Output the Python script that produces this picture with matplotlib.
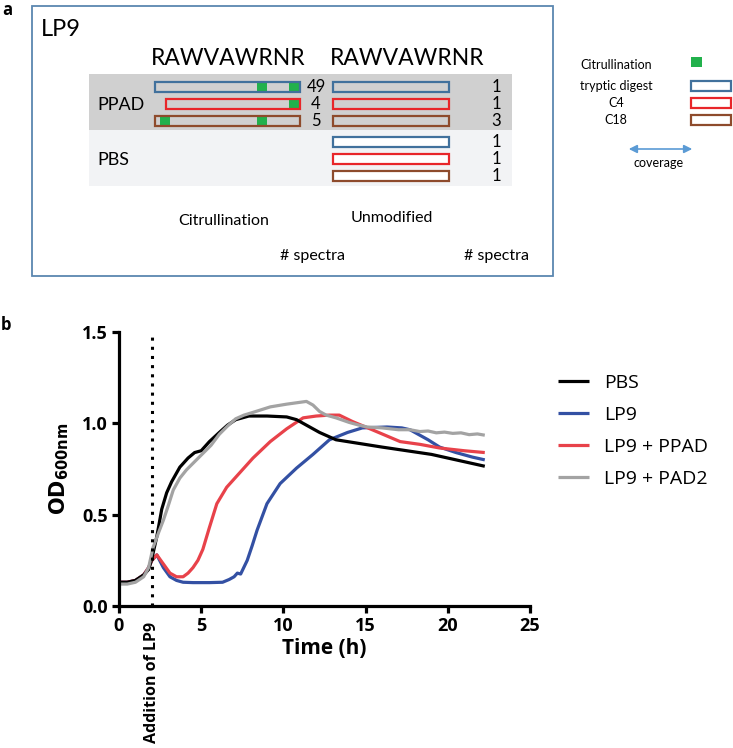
import os

os.environ.setdefault("MPLBACKEND", "Agg")

import matplotlib.pyplot as plt
from matplotlib.patches import Rectangle, FancyArrowPatch

################################################################################
# data                                                                         #
################################################################################
# panel a: peptide coverage schematic
sequence = "RAWVAWRNR"
digestNames = ["tryptic digest", "C4", "C18"]
digestColors = ["#41719c", "#e8262a", "#8e4b2c"]
citStart = [0.0, 0.7, 0.0]          # residue where the citrullinated peptide starts
citSites = [[7, 9], [9], [1, 7]]    # citrullinated arginines (1-based)
citSpectra = [49, 4, 5]
unmodSpectraPpad = [1, 1, 3]
unmodSpectraPbs = [1, 1, 1]

# panel b: growth curves
seriesNames = ["PBS", "LP9", "LP9 + PPAD", "LP9 + PAD2"]
seriesColors = ["#000000", "#3350a3", "#e8424a", "#a3a3a3"]

pbsTime = [0, 0.5, 1.0, 1.5, 1.8, 2.0, 2.3, 2.6, 2.9, 3.2, 3.7, 4.2, 4.6, 5.0,
           5.5, 6.1, 6.6, 7.1, 7.9, 9.0, 10.2, 10.8, 11.4, 12.2, 13.2, 14.6,
           16.0, 17.5, 19.0, 20.5, 22.25]
pbsOd = [0.13, 0.13, 0.14, 0.17, 0.20, 0.26, 0.38, 0.53, 0.62, 0.68, 0.76,
         0.81, 0.84, 0.85, 0.90, 0.95, 0.99, 1.02, 1.04, 1.04, 1.035, 1.02,
         0.99, 0.95, 0.91, 0.89, 0.87, 0.85, 0.83, 0.80, 0.765]

lp9Time = [0, 0.5, 1.0, 1.5, 1.8, 2.0, 2.3, 2.7, 3.1, 3.5, 3.9, 4.5, 5.5, 6.3,
           6.7, 7.0, 7.2, 7.4, 7.8, 8.1, 8.4, 9.0, 9.8, 10.8, 11.8, 12.8, 13.9,
           14.8, 16.3, 17.2, 17.7, 18.1, 18.8, 19.5, 20.5, 21.5, 22.25]
lp9Od = [0.13, 0.13, 0.14, 0.17, 0.21, 0.25, 0.28, 0.21, 0.16, 0.14, 0.13,
         0.128, 0.128, 0.13, 0.145, 0.16, 0.18, 0.175, 0.25, 0.33, 0.415, 0.56,
         0.67, 0.755, 0.83, 0.91, 0.95, 0.975, 0.98, 0.975, 0.965, 0.945, 0.91,
         0.87, 0.84, 0.815, 0.80]

ppadTime = [0, 0.5, 1.0, 1.5, 1.8, 2.0, 2.3, 2.7, 3.1, 3.5, 3.9, 4.2, 4.5, 4.8,
            5.1, 5.5, 5.95, 6.55, 7.35, 8.15, 9.2, 10.2, 11.2, 12.0, 12.8, 13.4,
            14.2, 15.4, 17.1, 18.3, 19.5, 21.0, 22.25]
ppadOd = [0.13, 0.13, 0.14, 0.17, 0.21, 0.25, 0.28, 0.23, 0.18, 0.16, 0.16,
          0.18, 0.21, 0.25, 0.31, 0.43, 0.56, 0.65, 0.73, 0.81, 0.90, 0.97,
          1.03, 1.04, 1.045, 1.045, 1.01, 0.965, 0.90, 0.885, 0.865, 0.85, 0.84]

pad2Time = [0, 0.5, 1.0, 1.5, 1.8, 2.07, 2.4, 2.7, 3.0, 3.3, 3.7, 4.1, 4.6, 5.1,
            5.6, 6.1, 6.6, 7.1, 7.6, 8.15, 9.2, 10.2, 11.0, 11.4, 11.8, 12.2,
            12.6, 13.2, 14.0, 14.6, 15.1, 16.0, 16.5, 17.0, 17.7, 18.3, 18.8,
            19.3, 19.8, 20.3, 20.8, 21.3, 21.8, 22.25]
pad2Od = [0.12, 0.12, 0.13, 0.16, 0.21, 0.32, 0.40, 0.47, 0.55, 0.635, 0.70,
          0.745, 0.79, 0.835, 0.88, 0.94, 0.985, 1.025, 1.045, 1.06, 1.09,
          1.105, 1.115, 1.12, 1.10, 1.065, 1.045, 1.03, 1.005, 0.99, 0.98,
          0.975, 0.97, 0.965, 0.965, 0.955, 0.958, 0.948, 0.952, 0.945, 0.948,
          0.938, 0.942, 0.935]

additionTime = 2.0

xTicks = [0, 5, 10, 15, 20, 25]
yTicks = [0.0, 0.5, 1.0, 1.5]

################################################################################
# figure                                                                       #
################################################################################
W, H = 733, 748
fig = plt.figure(figsize=(W / 100, H / 100), dpi=100)

# pixel-space overlay for the schematic panel
ax0 = fig.add_axes([0, 0, 1, 1])
ax0.set_xlim(0, W)
ax0.set_ylim(H, 0)
ax0.axis("off")

fa = "Lato"
fb = "Open Sans"

ax0.text(2, 10, "a", fontsize=12, fontweight="bold", family=fb, ha="left", va="center")
ax0.text(1, 325, "b", fontsize=12, fontweight="bold", family=fb, ha="left", va="center")

ax0.add_patch(Rectangle((32, 6), 521, 270, fill=False, ec="#5b87b0", lw=1.3))
ax0.text(41, 29, "LP9", fontsize=17, family=fa, ha="left", va="center")

citX0, citX1 = 155, 300
unX0, unX1 = 333, 449
resW = (citX1 - citX0) / len(sequence)
ax0.text(228, 58, sequence, fontsize=16.5, family=fa, ha="center", va="center")
ax0.text(407, 58, sequence, fontsize=16.5, family=fa, ha="center", va="center")

# background bands
ax0.add_patch(Rectangle((89, 74), 423, 56, color="#d0d0d0", lw=0))
ax0.add_patch(Rectangle((89, 130), 423, 56, color="#f2f3f5", lw=0))
ax0.text(97, 105, "PPAD", fontsize=13, family=fa, ha="left", va="center")
ax0.text(97, 160, "PBS", fontsize=13, family=fa, ha="left", va="center")

barH = 10
ppadRows = [87, 104, 121]
pbsRows = [142, 159, 176]
for i, color in enumerate(digestColors):
    yc = ppadRows[i]
    x0 = citX0 + citStart[i] * resW
    ax0.add_patch(Rectangle((x0, yc - barH / 2), citX1 - x0, barH,
                            fill=False, ec=color, lw=1.6, zorder=3))
    for site in citSites[i]:
        sx = citX0 + (site - 0.35) * resW - 5
        ax0.add_patch(Rectangle((sx, yc - barH / 2), 10, barH,
                                color="#22b14c", lw=0, zorder=2))
    ax0.text(316, yc, str(citSpectra[i]), fontsize=12, family=fa, ha="center", va="center")
    ax0.add_patch(Rectangle((unX0, yc - barH / 2), unX1 - unX0, barH,
                            fill=False, ec=color, lw=1.6, zorder=3))
    ax0.text(496, yc, str(unmodSpectraPpad[i]), fontsize=12, family=fa, ha="center", va="center")
    yp = pbsRows[i]
    ax0.add_patch(Rectangle((unX0, yp - barH / 2), unX1 - unX0, barH,
                            fc="white", ec=color, lw=1.6, zorder=3))
    ax0.text(496, yp, str(unmodSpectraPbs[i]), fontsize=12, family=fa, ha="center", va="center")

ax0.text(224, 221, "Citrullination", fontsize=11.5, family=fa, ha="center", va="center")
ax0.text(392, 218, "Unmodified", fontsize=11.5, family=fa, ha="center", va="center")
ax0.text(313, 256, "# spectra", fontsize=11.5, family=fa, ha="center", va="center")
ax0.text(497, 256, "# spectra", fontsize=11.5, family=fa, ha="center", va="center")

# key on the right
ax0.text(616, 65, "Citrullination", fontsize=9, family=fa, ha="center", va="center")
ax0.add_patch(Rectangle((691, 57), 11, 10, color="#22b14c", lw=0))
keyY = [86, 103, 120]
for name, color, y in zip(digestNames, digestColors, keyY):
    ax0.text(616, y, name, fontsize=9, family=fa, ha="center", va="center")
    ax0.add_patch(Rectangle((691, y - 5), 40, 10, fill=False, ec=color, lw=1.6))
ax0.add_patch(FancyArrowPatch((626, 149), (695, 149), arrowstyle="<|-|>",
                              mutation_scale=12, color="#5b9bd5", lw=1.2))
ax0.text(659, 163, "coverage", fontsize=9, family=fa, ha="center", va="center")

################################################################################
# panel b                                                                      #
################################################################################
left, right, bottom, top = 119, 530, 606, 332
ax = fig.add_axes([left / W, 1 - bottom / H, (right - left) / W, (bottom - top) / H])
ax.patch.set_alpha(0)

series = [(pbsTime, pbsOd), (lp9Time, lp9Od), (ppadTime, ppadOd), (pad2Time, pad2Od)]
order = [1, 2, 0, 3]
for idx in order:
    t, od = series[idx]
    ax.plot(t, od, color=seriesColors[idx], lw=2.3, label=seriesNames[idx],
            solid_capstyle="butt", clip_on=False)

ax.axvline(additionTime, ymin=0, ymax=1, color="black", lw=2.2,
           linestyle=(0, (1, 2)))

ax.set_xlim(0, 25)
ax.set_ylim(0, 1.5)
ax.set_xticks(xTicks)
ax.set_yticks(yTicks)
ax.set_xticklabels([str(v) for v in xTicks], fontsize=13, fontweight="bold", family=fb)
ax.set_yticklabels([f"{v:.1f}" for v in yTicks], fontsize=13, fontweight="bold", family=fb)
for side in ["top", "right"]:
    ax.spines[side].set_visible(False)
for side in ["left", "bottom"]:
    ax.spines[side].set_linewidth(2.3)
ax.tick_params(width=2.3, length=5, direction="out", pad=3)

plt.rcParams["mathtext.fontset"] = "custom"
plt.rcParams["mathtext.bf"] = "Open Sans:bold"
plt.rcParams["mathtext.rm"] = "Open Sans"
ax.set_xlabel("Time (h)", fontsize=15, fontweight="bold", family=fb, labelpad=2)
ax.set_ylabel(r"$\mathbf{OD_{600nm}}$", fontsize=15, labelpad=8)

ax.text(additionTime, -0.09, "Addition of LP9", rotation=90, ha="center", va="top",
        fontsize=11.5, fontweight="bold", family=fb, transform=ax.transData)

handles, labels = ax.get_legend_handles_labels()
byName = dict(zip(labels, handles))
leg = fig.legend([byName[n] for n in seriesNames], seriesNames,
                 loc="upper left", bbox_to_anchor=(540 / W, 1 - 356 / H),
                 frameon=False, prop={"family": fb, "size": 14},
                 handlelength=1.6, labelspacing=0.72, handletextpad=0.8)

fig.savefig("out.png", dpi=100)
